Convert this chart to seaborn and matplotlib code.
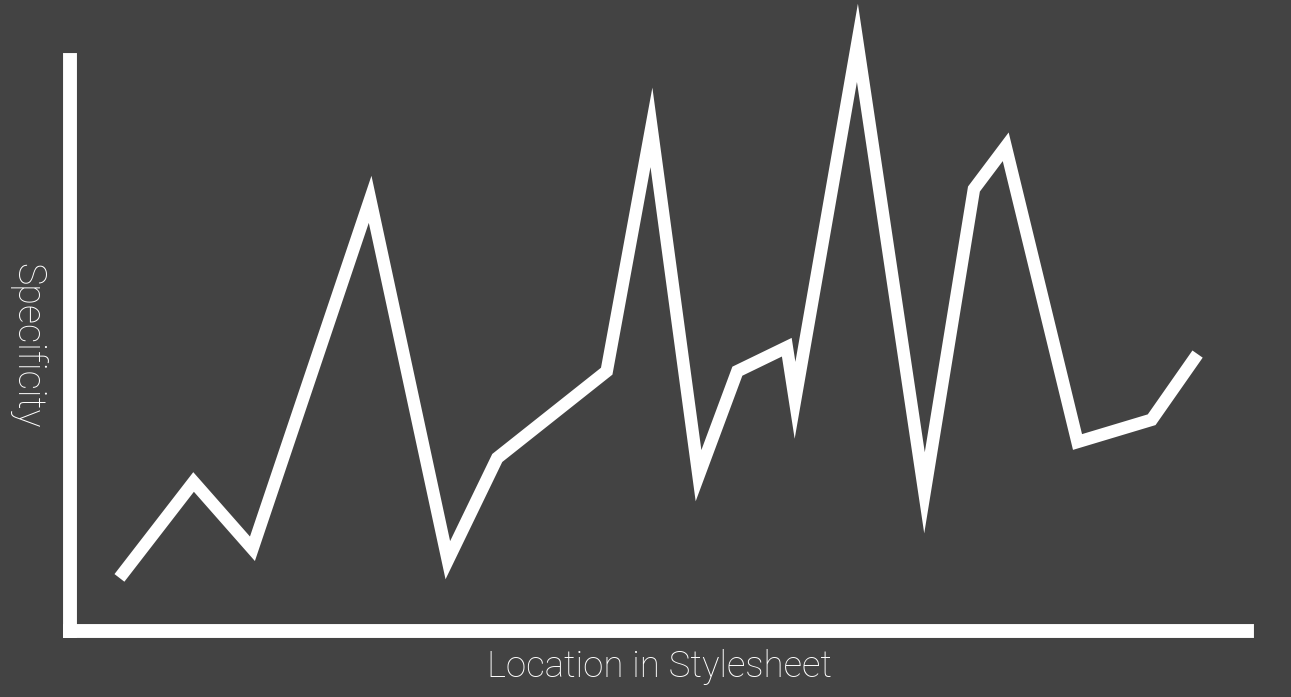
import matplotlib
matplotlib.use("Agg")
import matplotlib.pyplot as plt
import seaborn as sns
import pandas as pd

# Data (arbitrary units, 0-100 scale)
location = [4.2, 10.5, 15.5, 25.5, 32.1, 36.3, 45.6, 49.4, 53.4, 56.7,
            60.9, 61.6, 66.9, 72.6, 76.8, 79.5, 85.6, 91.9, 95.8]
specificity = [9.3, 26.1, 14.4, 75.6, 12.4, 30.3, 45.5, 88.2, 27.2, 45.5,
               49.7, 40.4, 103.0, 24.2, 77.4, 84.8, 33.1, 37.0, 48.5]
x_label = "Location in Stylesheet"
y_label = "Specificity"

BG = "#434343"
FG = "#ffffff"
TXT = "#ffffff"

sns.set_theme(style="white")
plt.rcParams['font.family'] = ['Roboto', 'DejaVu Sans']

df = pd.DataFrame({"loc": location, "spec": specificity})

fig = plt.figure(figsize=(12.91, 6.97), dpi=100, facecolor=BG)
ax = fig.add_axes([70/1291, 66/697, 1177/1291, 571/697])
ax.set_facecolor(BG)

sns.lineplot(data=df, x="loc", y="spec", color=FG, linewidth=9,
             sort=False, ax=ax)
ln = ax.lines[0]
ln.set_solid_joinstyle('miter')
ln.set_solid_capstyle('butt')
ln.set_clip_on(False)

ax.set_xlim(0, 100)
ax.set_ylim(0, 100)
ax.set_xticks([])
ax.set_yticks([])

for side in ["top", "right"]:
    ax.spines[side].set_visible(False)
for side in ["left", "bottom"]:
    sp = ax.spines[side]
    sp.set_color(FG)
    sp.set_linewidth(10)
    sp.set_capstyle('projecting')

ax.set_xlabel(x_label, fontsize=26.4, color=TXT, fontweight='light', va='center')
ax.xaxis.set_label_coords(0.501, -0.063)
ax.set_ylabel(y_label, fontsize=27.2, color=TXT, fontweight='light',
              rotation=270, va='center', ha='center')
ax.yaxis.set_label_coords(-0.0365, 0.499)

fig.savefig("out.png", dpi=100, facecolor=BG)
